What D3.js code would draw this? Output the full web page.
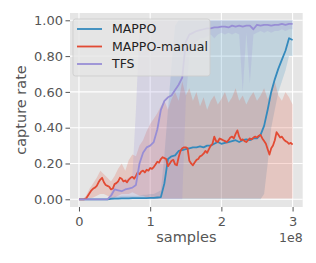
<!DOCTYPE html>
<html><head><meta charset="utf-8">
<script src="https://cdn.jsdelivr.net/npm/d3@7"></script>
<style>body{margin:0;background:#fff}svg{display:block}text{font-family:"DejaVu Sans",sans-serif}</style>
</head><body><svg id="c" width="316" height="263"></svg>
<script>
// samples in units of 1e8
const seriesNames = ["MAPPO", "MAPPO-manual", "TFS"];
const seriesColors = ["#348ABD", "#E24A33", "#988ED5"];
const samples = d3.range(61).map(i => +(i * 0.05).toFixed(2));       // 0.05e8 grid
const samplesFine = d3.range(121).map(i => +(i * 0.025).toFixed(3)); // 0.025e8 grid
const xTicks = [0, 1, 2, 3];
const yTicks = [0, 0.2, 0.4, 0.6, 0.8, 1.0];

const mappo = [
  0,0,0,0,0,0,0,0,0,0.003,
  0.004,0.004,0.005,0.005,0.005,0.006,0.006,0.006,0.007,0.007,
  0.008,0.008,0.01,0.012,0.09,0.225,0.24,0.245,0.27,0.275,
  0.28,0.285,0.29,0.29,0.295,0.29,0.30,0.30,0.31,0.32,
  0.31,0.315,0.32,0.325,0.33,0.32,0.33,0.335,0.33,0.34,
  0.34,0.36,0.41,0.50,0.60,0.67,0.73,0.78,0.83,0.90,
  0.89];
const mappoLo = [
  0,0,0,0,0,0,0,0,0,0,
  0,0,0,0,0,0,0,0,0,0,
  0,0,0,0,0,0,0,0,0,0,
  0,0,0,0,0,0,0,0,0,0,
  0,0,0,0,0,0,0,0,0,0,
  0,0,0.03,0.2,0.4,0.5,0.6,0.66,0.72,0.8,
  0.8];
const mappoHi = [
  0,0,0,0,0,0,0,0,0,0.01,
  0.015,0.015,0.02,0.02,0.02,0.02,0.02,0.02,0.025,0.025,
  0.03,0.03,0.04,0.05,0.25,0.5,0.75,0.97,1,1,
  1,1,1,1,1,1,1,1,1,1,
  1,1,1,1,1,1,1,1,1,1,
  1,1,1,1,1,1,1,1,1,1,
  1];

const manual = [
  0,0,0,0,0.005,0.02,0.035,0.05,0.06,0.065,
  0.075,0.095,0.11,0.12,0.095,0.08,0.075,0.07,0.055,0.06,
  0.085,0.09,0.10,0.12,0.115,0.10,0.105,0.095,0.11,0.12,
  0.125,0.115,0.13,0.15,0.14,0.155,0.16,0.15,0.165,0.16,
  0.175,0.17,0.18,0.195,0.21,0.205,0.225,0.235,0.23,0.225,
  0.185,0.20,0.215,0.22,0.195,0.19,0.235,0.27,0.285,0.29,
  0.29,0.285,0.215,0.20,0.19,0.205,0.22,0.225,0.24,0.245,
  0.255,0.27,0.26,0.28,0.30,0.31,0.35,0.325,0.32,0.34,
  0.335,0.33,0.325,0.32,0.33,0.345,0.35,0.34,0.365,0.385,
  0.35,0.33,0.335,0.325,0.32,0.33,0.34,0.335,0.345,0.35,
  0.345,0.355,0.36,0.34,0.325,0.31,0.28,0.25,0.285,0.30,
  0.33,0.375,0.36,0.345,0.35,0.335,0.325,0.32,0.31,0.315,
  0.305];
const manualLo = [
  0,0,0,0.005,0.01,0.02,0.03,0.03,0.02,0.01,
  0.01,0.02,0.03,0.03,0.03,0.04,0.03,0.02,0.02,0.01,
  0.01,0.005,0.005,0.005,0.005,0.005,0.005,0.005,0.005,0.005,
  0.005,0.005,0.005,0.005,0.005,0.005,0.005,0.005,0.005,0.005,
  0.005,0.005,0.005,0.005,0.005,0.005,0.005,0.005,0.005,0.005,
  0.005,0.005,0.005,0.005,0.005,0.005,0.005,0.005,0.005,0.005,
  0.005];
const manualHi = [
  0,0,0.02,0.06,0.09,0.12,0.16,0.14,0.12,0.10,
  0.13,0.17,0.20,0.16,0.22,0.25,0.24,0.30,0.33,0.38,
  0.42,0.45,0.48,0.52,0.55,0.50,0.56,0.60,0.55,0.66,
  0.58,0.62,0.55,0.60,0.52,0.57,0.50,0.55,0.58,0.53,
  0.56,0.60,0.54,0.57,0.62,0.55,0.58,0.53,0.57,0.60,
  0.55,0.58,0.62,0.56,0.60,0.66,0.58,0.55,0.60,0.57,
  0.53];

const tfs = [
  0,0,0,0,0,0,0,0,0,0.02,
  0.055,0.05,0.045,0.055,0.06,0.065,0.08,0.20,0.26,0.29,
  0.30,0.32,0.39,0.50,0.55,0.57,0.58,0.61,0.64,0.68,
  0.88,0.92,0.93,0.94,0.945,0.95,0.955,0.955,0.96,0.96,
  0.965,0.965,0.96,0.97,0.965,0.97,0.965,0.97,0.97,0.95,
  0.975,0.97,0.975,0.975,0.97,0.975,0.975,0.98,0.975,0.98,
  0.98];
const tfsLo = [
  0,0,0,0,0,0,0,0,0,0,
  0,0,0,0,0,0,0,0,0,0,
  0,0,0,0,0,0,0,0,0,0,
  0.55,0.8,0.85,0.88,0.9,0.9,0.91,0.92,0.9,0.92,
  0.93,0.92,0.93,0.92,0.93,0.92,0.6,0.93,0.65,0.92,
  0.93,0.94,0.93,0.94,0.93,0.94,0.94,0.95,0.94,0.95,
  0.95];
const tfsHi = [
  0,0,0,0,0,0,0,0,0,0.04,
  0.09,0.1,0.1,0.11,0.12,0.13,0.5,0.95,0.99,1,
  1,1,1,1,1,1,1,1,1,1,
  1,1,1,1,1,1,1,1,1,1,
  1,1,1,1,1,1,1,1,1,1,
  1,1,1,1,1,1,1,1,1,1,
  1];

const svg = d3.select("#c");
const L = 70, R = 302.7, T = 13, B = 207;
const x = d3.scaleLinear().domain([-0.126, 3.142]).range([L, R]);
const y = d3.scaleLinear().domain([-0.0431, 1.0408]).range([B, T]);

svg.append("rect").attr("x", L).attr("y", T).attr("width", R - L).attr("height", B - T).attr("fill", "#E5E5E5");

// grid
const g = svg.append("g");
g.selectAll(".gx").data(xTicks).join("line")
  .attr("x1", d => x(d)).attr("x2", d => x(d)).attr("y1", T).attr("y2", B)
  .attr("stroke", "#fff").attr("stroke-width", 1.1);
g.selectAll(".gy").data(yTicks).join("line")
  .attr("y1", d => y(d)).attr("y2", d => y(d)).attr("x1", L).attr("x2", R)
  .attr("stroke", "#fff").attr("stroke-width", 1.1);

const bands = [
  {xs: samples, lo: mappoLo, hi: mappoHi, c: seriesColors[0]},
  {xs: samples, lo: manualLo, hi: manualHi, c: seriesColors[1]},
  {xs: samples, lo: tfsLo, hi: tfsHi, c: seriesColors[2]}
];
bands.forEach(b => {
  const area = d3.area().x((d, i) => x(b.xs[i])).y0((d, i) => y(b.lo[i])).y1((d, i) => y(b.hi[i]));
  svg.append("path").attr("d", area(b.lo)).attr("fill", b.c).attr("fill-opacity", 0.2).attr("stroke", "none");
});

const lines = [
  {xs: samples, v: mappo, c: seriesColors[0]},
  {xs: samplesFine, v: manual, c: seriesColors[1]},
  {xs: samples, v: tfs, c: seriesColors[2]}
];
lines.forEach(l => {
  const line = d3.line().x((d, i) => x(l.xs[i])).y(d => y(d));
  svg.append("path").attr("d", line(l.v)).attr("fill", "none").attr("stroke", l.c)
    .attr("stroke-width", 1.8).attr("stroke-linejoin", "round");
});

// axes
const ax = svg.append("g").attr("transform", `translate(0,${B})`)
  .call(d3.axisBottom(x).tickValues(xTicks).tickFormat(d3.format("d")).tickSize(4.5).tickPadding(5));
const ay = svg.append("g").attr("transform", `translate(${L},0)`)
  .call(d3.axisLeft(y).tickValues(yTicks).tickFormat(d3.format(".2f")).tickSize(4.5).tickPadding(2.5));
[ax, ay].forEach(a => {
  a.select(".domain").remove();
  a.selectAll(".tick line").attr("stroke", "#555555").attr("stroke-width", 1);
  a.selectAll(".tick text").attr("fill", "#555555").attr("font-size", 13).attr("font-family", "DejaVu Sans");
});

svg.append("text").attr("x", R).attr("y", 242).attr("text-anchor", "end")
  .attr("fill", "#555555").attr("font-size", 12.5).text("1e8");
svg.append("text").attr("x", (L + R) / 2).attr("y", 242).attr("text-anchor", "middle")
  .attr("fill", "#555555").attr("font-size", 14.5).text("samples");
svg.append("text").attr("transform", `translate(26,${(T + B) / 2}) rotate(-90)`)
  .attr("text-anchor", "middle").attr("fill", "#555555").attr("font-size", 14.5).text("capture rate");

// legend
const lg = svg.append("g");
lg.append("rect").attr("x", 73).attr("y", 19).attr("width", 137).attr("height", 57).attr("rx", 2.5)
  .attr("fill", "#E5E5E5").attr("fill-opacity", 0.8).attr("stroke", "#CCCCCC").attr("stroke-opacity", 0.8).attr("stroke-width", 1);
seriesNames.forEach((n, i) => {
  const yy = 29 + i * 17.5;
  lg.append("line").attr("x1", 77).attr("x2", 102).attr("y1", yy).attr("y2", yy)
    .attr("stroke", seriesColors[i]).attr("stroke-width", 1.8);
  lg.append("text").attr("x", 112).attr("y", yy).attr("dy", "0.35em")
    .attr("fill", "#222").attr("font-size", 12.5).text(n);
});
</script></body></html>
